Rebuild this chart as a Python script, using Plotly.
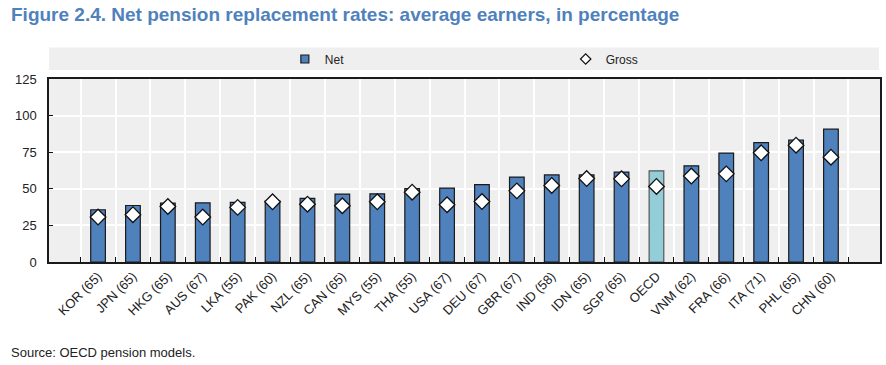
import plotly.graph_objects as go

categories = ["KOR (65)", "JPN (65)", "HKG (65)", "AUS (67)", "LKA (55)", "PAK (60)",
              "NZL (65)", "CAN (65)", "MYS (55)", "THA (55)", "USA (67)", "DEU (67)",
              "GBR (67)", "IND (58)", "IDN (65)", "SGP (65)", "OECD", "VNM (62)",
              "FRA (66)", "ITA (71)", "PHL (65)", "CHN (60)"]
net = [35.7, 38.6, 40.2, 40.4, 40.7, 41.6, 43.4, 46.4, 46.6, 50.2, 50.5, 52.9,
       58.0, 59.5, 59.5, 61.4, 62.3, 65.7, 74.4, 81.6, 83.2, 90.7]
gross = [30.7, 32.3, 37.9, 30.7, 37.3, 41.1, 39.5, 38.4, 41.1, 47.7, 39.1, 41.3,
         48.6, 52.3, 57.0, 56.8, 51.6, 58.7, 60.2, 74.6, 79.8, 71.6]
y_ticks = [0, 25, 50, 75, 100, 125]

BLUE = "#4f81bd"
OECD_COL = "#93cdd8"
bar_colors = [OECD_COL if c == "OECD" else BLUE for c in categories]
bar_lines = ["#555555" if c == "OECD" else "#1a1a1a" for c in categories]

W, H = 886, 365
ML, MR, MT, MB = 49, 4, 79, 103
PW, PH = W - ML - MR, H - MT - MB

FONT = "Liberation Sans Narrow, Arial Narrow, Liberation Sans, Arial, sans-serif"

fig = go.Figure()
fig.add_trace(go.Bar(
    x=categories, y=net, name="Net", showlegend=False,
    marker=dict(color=bar_colors, line=dict(color=bar_lines, width=1.2)),
    width=0.42,
))
fig.add_trace(go.Scatter(
    x=categories, y=gross, name="Gross", mode="markers", showlegend=False,
    marker=dict(symbol="diamond", size=12, color="white",
                line=dict(color="#111111", width=1.3)),
))
# legend entries
fig.add_trace(go.Scatter(
    x=[None], y=[None], name="Net", mode="markers", legend="legend",
    marker=dict(symbol="square", size=8, color=BLUE, line=dict(color="#1a1a1a", width=1.2)),
))
fig.add_trace(go.Scatter(
    x=[None], y=[None], name="Gross", mode="markers", legend="legend2",
    marker=dict(symbol="diamond", size=8, color="white", line=dict(color="#111111", width=1.2)),
))

def py(px):
    return 1 + (MT - px) / PH

fig.add_shape(type="rect", xref="paper", yref="paper",
              x0=0, x1=(881 - ML) / PW, y0=py(70), y1=py(47.5),
              fillcolor="#efefef", line=dict(width=0), layer="below")

fig.update_layout(
    width=W, height=H,
    margin=dict(l=ML, r=MR, t=MT, b=MB),
    paper_bgcolor="white", plot_bgcolor="#efefef",
    font=dict(family=FONT, size=12, color="#222222"),
    title=dict(
        text="<b>Figure 2.4. Net pension replacement rates: average earners, in percentage</b>",
        x=11 / W, xanchor="left", xref="container",
        y=1 - 14 / H, yanchor="middle", yref="container",
        font=dict(family="Liberation Sans, Arial, sans-serif", size=19, color="#4f81bd"),
    ),
    legend=dict(orientation="h", x=(318 - ML) / PW, xanchor="center",
                y=py(59), yanchor="middle", bgcolor="rgba(0,0,0,0)",
                font=dict(family=FONT, size=12, color="#222222")),
    legend2=dict(orientation="h", x=(606 - ML) / PW, xanchor="center",
                 y=py(59), yanchor="middle", bgcolor="rgba(0,0,0,0)",
                 font=dict(family=FONT, size=12, color="#222222")),
    showlegend=True,
)

fig.update_xaxes(
    type="category", tickson="boundaries", ticks="inside", ticklen=5,
    tickcolor="#111111", tickwidth=1.2,
    showgrid=True, gridcolor="white", gridwidth=1.5,
    showline=True, linecolor="#1a1a1a", linewidth=1.5, mirror=True,
    tickangle=-45, tickfont=dict(family=FONT, size=13, color="#222222"),
)
fig.update_yaxes(
    range=[0, 125], tickvals=y_ticks, ticks="inside", ticklen=4,
    tickcolor="#111111", tickwidth=1.2,
    showgrid=True, gridcolor="white", gridwidth=1.5,
    showline=True, linecolor="#1a1a1a", linewidth=1.5, mirror=True,
    zeroline=False, tickfont=dict(family=FONT, size=13, color="#222222"),
    ticklabelstandoff=8,
)

fig.add_annotation(
    text="Source: OECD pension models.", xref="paper", yref="paper",
    x=(9 - ML) / PW, xanchor="left", y=1 + (MT - 352) / PH, yanchor="middle",
    showarrow=False, font=dict(family=FONT, size=13, color="#222222"),
)

fig.write_html("out.html", config={"displayModeBar": False},
               post_script="document.body.style.margin='0px';")
